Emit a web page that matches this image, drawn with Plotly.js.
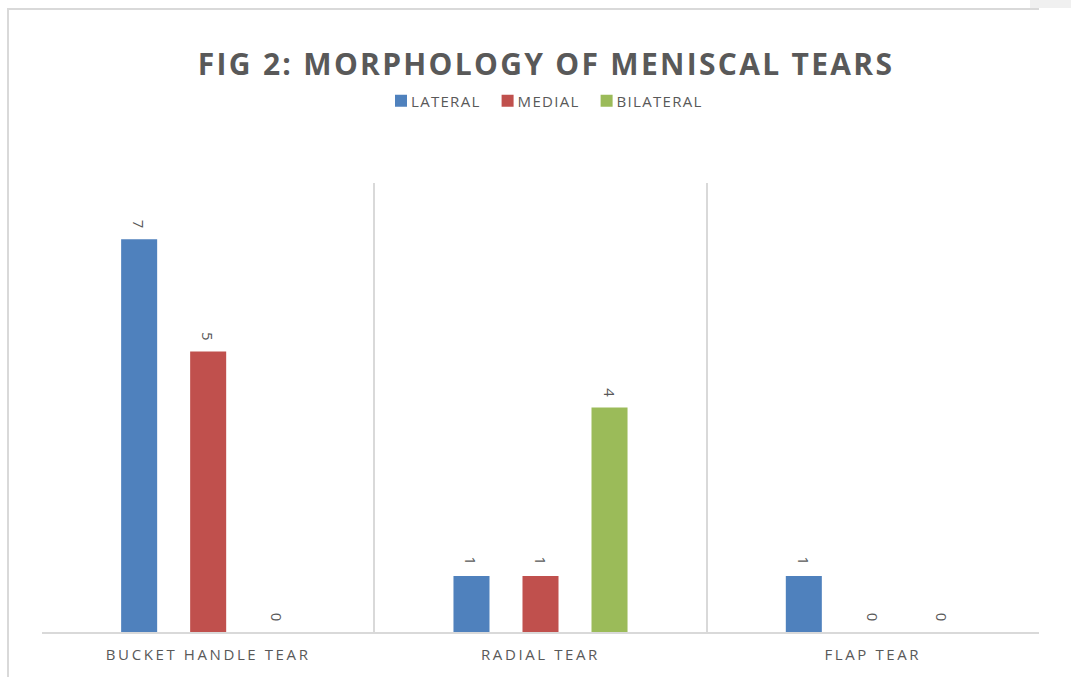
<!DOCTYPE html>
<html>
<head>
<meta charset="utf-8">
<script src="https://cdn.plot.ly/plotly-3.0.1.min.js"></script>
<style>
  html, body { margin: 0; padding: 0; background: #ffffff; }
  #wrap { position: relative; width: 1071px; height: 677px; overflow: hidden; }
  #chart { position: absolute; left: 0; top: 0; width: 1071px; height: 677px; }
  #frame { position: absolute; left: 7px; top: 8px; width: 1030px; height: 680px;
           border-left: 2px solid #d9d9d9; border-top: 2px solid #d9d9d9; pointer-events: none; }
  #corner { position: absolute; left: 1030px; top: 0; width: 41px; height: 8px; background: #f0f0f0; }
  .xtick text { letter-spacing: 2.6px; }
  .gtitle { letter-spacing: 2.3px; }
  .legendtext { letter-spacing: 1.3px; }
</style>
</head>
<body>
<div id="wrap">
  <div id="chart"></div>
  <div id="corner"></div>
  <div id="frame"></div>
</div>
<script>
const categories = ["BUCKET HANDLE TEAR", "RADIAL TEAR", "FLAP TEAR"];
const seriesNames = ["LATERAL", "MEDIAL", "BILATERAL"];
const lateral = [7, 1, 1];
const medial = [5, 1, 0];
const bilateral = [0, 4, 0];
const seriesValues = [lateral, medial, bilateral];
const seriesColors = ["#4F81BD", "#C0504D", "#9BBB59"];

const textGray = "#595959";
const labelPad = "\u00a0\u00a0";

const traces = seriesNames.map((name, i) => ({
  type: "bar",
  name: name,
  x: categories,
  y: seriesValues[i],
  marker: { color: seriesColors[i] },
  text: seriesValues[i].map(v => String(v) + labelPad),
  textposition: "outside",
  textangle: 90,
  constraintext: "none",
  cliponaxis: false,
  textfont: { family: "Open Sans, sans-serif", size: 15, color: textGray },
  hoverinfo: "x+y+name"
}));

const layout = {
  width: 1071,
  height: 677,
  paper_bgcolor: "#ffffff",
  plot_bgcolor: "#ffffff",
  margin: { l: 42, r: 32, t: 183, b: 45, pad: 0 },
  barmode: "group",
  bargap: 0.377,
  bargroupgap: 0.478,
  title: {
    text: "<b>FIG 2: MORPHOLOGY OF MENISCAL TEARS</b>",
    font: { family: "Open Sans, sans-serif", size: 30, color: textGray },
    x: 546 / 1071, xanchor: "center",
    y: 1 - 64 / 677, yanchor: "middle"
  },
  showlegend: true,
  legend: {
    orientation: "h",
    x: 0.5, xanchor: "center",
    y: 1 + (183 - 101) / 449, yanchor: "middle",
    font: { family: "Open Sans, sans-serif", size: 15, color: textGray },
    traceorder: "normal"
  },
  xaxis: {
    type: "category",
    tickson: "boundaries",
    showgrid: true,
    gridcolor: "#d9d9d9",
    gridwidth: 1.5,
    showline: true,
    linecolor: "#d9d9d9",
    linewidth: 2,
    ticks: "",
    tickfont: { family: "Open Sans, sans-serif", size: 15, color: textGray },
    ticklabelstandoff: 8,
    fixedrange: true
  },
  yaxis: {
    range: [0, 8],
    showgrid: false,
    zeroline: false,
    showline: false,
    showticklabels: false,
    ticks: "",
    fixedrange: true
  }
};

Plotly.newPlot("chart", traces, layout, { displayModeBar: false }).then(gd => {
  // tighten legend: symbol close to its label, as in the original
  const items = gd.querySelectorAll(".legend .traces");
  items.forEach((g, i) => {
    const pts = g.querySelector(".legendpoints");
    if (pts) pts.setAttribute("transform", "translate(10,0)");
    const t = g.getAttribute("transform") || "";
    const m = t.match(/translate\(([-\d.]+),\s*([-\d.]+)\)/);
    if (m) {
      const nx = parseFloat(m[1]) - 8 * i + 7;
      g.setAttribute("transform", "translate(" + nx + "," + m[2] + ")");
    }
  });
});
</script>
</body>
</html>
